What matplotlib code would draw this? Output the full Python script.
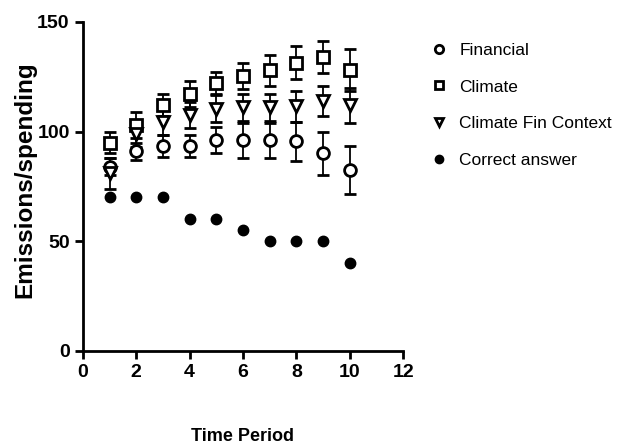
import numpy as np
import matplotlib.pyplot as plt
from matplotlib.lines import Line2D

plt.rcParams['font.family'] = ['Liberation Sans', 'DejaVu Sans']

periods = [1, 2, 3, 4, 5, 6, 7, 8, 9, 10]

financial = [84, 91, 93.5, 93.5, 96, 96, 96, 95.5, 90, 82.5]
financial_err = [4, 4, 5, 5, 6, 8, 8, 9, 10, 11]

climate = [95, 103, 112, 117, 122, 125.5, 128, 131.5, 134, 128]
climate_err = [5, 6, 5, 6, 5, 6, 7, 7.5, 7.5, 9.5]

climate_fin = [81, 99, 104.5, 107.5, 110.5, 111, 111, 111.5, 114, 112]
climate_fin_err = [7, 6, 6, 6, 6, 6, 6, 7, 7, 8]

correct = [70, 70, 70, 60, 60, 55, 50, 50, 50, 40]

series_names = ['Financial', 'Climate', 'Climate Fin Context', 'Correct answer']

fig = plt.figure(figsize=(6.23, 4.48), dpi=100)
ax = fig.add_axes([0.133, 0.217, 0.514, 0.734])

common = dict(ls='none', ecolor='black', elinewidth=1.3, capsize=4,
              capthick=2, mec='black', mew=2, ms=8.5)
ax.errorbar(periods, financial, yerr=financial_err, fmt='o', mfc='white', **common)
ax.errorbar(periods, climate, yerr=climate_err, fmt='s', mfc='white', **common)
ax.errorbar(periods, climate_fin, yerr=climate_fin_err, fmt='v', mfc='white', **common)
ax.plot(periods, correct, 'o', color='black', ms=7.5, ls='none')

ax.set_xlim(0, 12)
ax.set_ylim(0, 150)
ax.set_xticks([0, 2, 4, 6, 8, 10, 12])
ax.set_yticks([0, 50, 100, 150])

for s in ['top', 'right']:
    ax.spines[s].set_visible(False)
for s in ['left', 'bottom']:
    ax.spines[s].set_linewidth(2)
ax.tick_params(width=2, length=6, labelsize=14)
for lab in ax.get_xticklabels() + ax.get_yticklabels():
    lab.set_fontweight('bold')

ax.set_xlabel('Time Period', fontsize=13, fontweight='bold')
ax.xaxis.set_label_coords(0.5, -0.235)
ax.set_ylabel('Emissions/spending', fontsize=17.5, fontweight='bold')
ax.yaxis.set_label_coords(-0.145, 0.52)

handles = [
    Line2D([], [], marker='o', ls='none', mfc='white', mec='black', mew=2, ms=6),
    Line2D([], [], marker='s', ls='none', mfc='white', mec='black', mew=2, ms=6),
    Line2D([], [], marker='v', ls='none', mfc='white', mec='black', mew=2, ms=6),
    Line2D([], [], marker='o', ls='none', color='black', ms=6),
]
fig.legend(handles, series_names, loc='upper left', bbox_to_anchor=(0.665, 0.94),
           frameon=False, prop={'size': 12.5},
           handletextpad=0.7, labelspacing=1.25, handlelength=1.0)

plt.savefig('out.png', dpi=100)
